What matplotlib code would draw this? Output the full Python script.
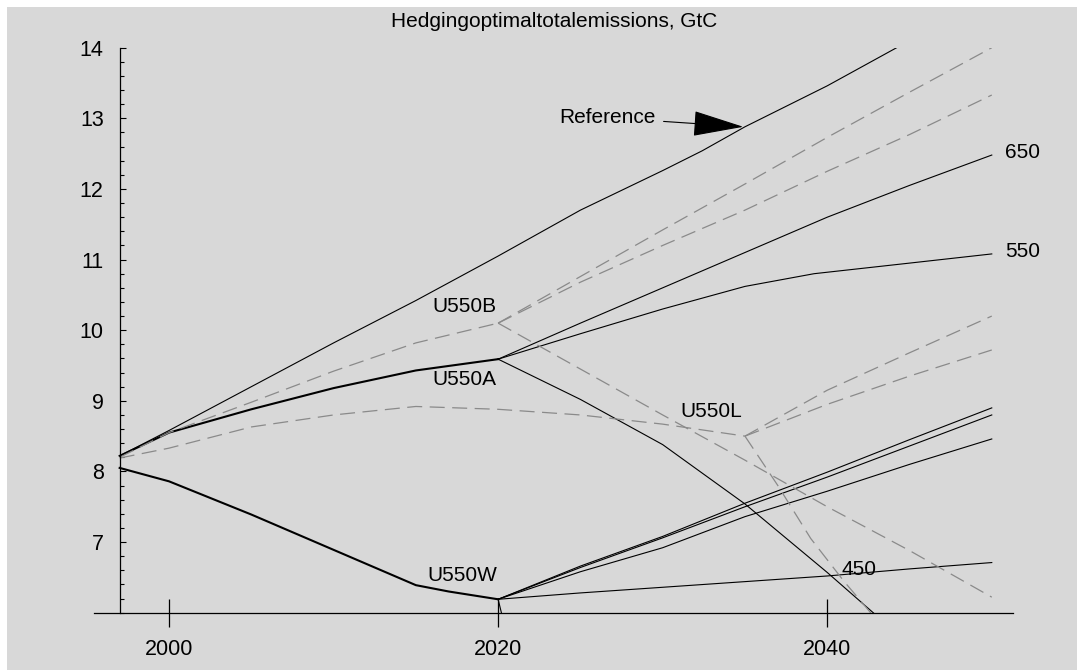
import matplotlib
matplotlib.use("Agg")
import matplotlib.pyplot as plt
from matplotlib.patches import Rectangle
from matplotlib.ticker import MultipleLocator, FixedLocator

plt.rcParams['font.family'] = ['Liberation Sans', 'DejaVu Sans']

# ---------------- data ----------------
title = "Hedgingoptimaltotalemissions, GtC"
x_ticks = [2000, 2020, 2040]
y_ticks = [7, 8, 9, 10, 11, 12, 13, 14]

# Reference (solid)
ref_years = [1997, 2000, 2005, 2010, 2015, 2020, 2025, 2030, 2032.4, 2035, 2040, 2045, 2050]
ref_vals  = [8.22, 8.58, 9.20, 9.82, 10.42, 11.05, 11.70, 12.26, 12.54, 12.88, 13.46, 14.10, 14.70]

# U550A (solid, thick) before learning, then branches
a_years = [1997, 2000, 2005, 2010, 2015, 2020]
a_vals  = [8.22, 8.55, 8.88, 9.18, 9.43, 9.59]
a650_years = [2020, 2025, 2030, 2035, 2040, 2045, 2050]
a650_vals  = [9.59, 10.10, 10.60, 11.10, 11.60, 12.05, 12.48]
a550_years = [2020, 2025, 2030, 2035, 2039.2, 2045, 2050]
a550_vals  = [9.59, 9.95, 10.30, 10.62, 10.80, 10.95, 11.08]
a450_years = [2020, 2025, 2030, 2035, 2040, 2045]
a450_vals  = [9.59, 9.02, 8.38, 7.54, 6.57, 5.55]

# U550W (solid, thick) before learning, then branches
w_years = [1997, 2000, 2005, 2010, 2015, 2017, 2020]
w_vals  = [8.05, 7.86, 7.39, 6.89, 6.39, 6.30, 6.19]
w1_years = [2020, 2025, 2030, 2035, 2040, 2045, 2050]
w1_vals  = [6.19, 6.66, 7.08, 7.55, 7.99, 8.45, 8.90]
w2_vals  = [6.19, 6.64, 7.06, 7.50, 7.92, 8.36, 8.80]
w3_vals  = [6.19, 6.58, 6.92, 7.36, 7.72, 8.10, 8.46]
w4_vals  = [6.19, 6.28, 6.36, 6.44, 6.52, 6.62, 6.71]
wdrop_years = [2020, 2020.25]
wdrop_vals  = [6.19, 5.95]

# U550B (dashed) before learning, then branches
b_years = [1997, 2000, 2005, 2010, 2015, 2020]
b_vals  = [8.20, 8.55, 8.98, 9.42, 9.82, 10.10]
bup_years = [2020, 2025, 2030, 2035, 2040, 2045, 2050]
bup1_vals = [10.10, 10.76, 11.42, 12.07, 12.73, 13.37, 14.00]
bup2_vals = [10.10, 10.68, 11.20, 11.70, 12.25, 12.77, 13.33]
bdn_vals  = [10.10, 9.45, 8.80, 8.16, 7.50, 6.88, 6.22]

# U550L (dashed) before learning, then branches
l_years = [1997, 2000, 2005, 2010, 2015, 2020, 2025, 2030, 2035]
l_vals  = [8.19, 8.33, 8.63, 8.80, 8.92, 8.88, 8.80, 8.67, 8.50]
lup_years = [2035, 2040, 2045, 2050]
lup1_vals = [8.50, 9.15, 9.68, 10.20]
lup2_vals = [8.50, 8.95, 9.35, 9.72]
ldn_years = [2035, 2037, 2039, 2041, 2043]
ldn_vals  = [8.50, 7.80, 7.05, 6.45, 5.90]

# labels: (text, year, value)
labels = [("U550B", 2017.95, 10.33), ("U550A", 2017.95, 9.30),
          ("U550W", 2017.8, 6.53), ("U550L", 2032.95, 8.85),
          ("450", 2041.93, 6.61)]
end_labels = [("650", 2050.8, 12.51), ("550", 2050.8, 11.11)]

# ---------------- figure ----------------
W, H = 1077, 670
fig = plt.figure(figsize=(W / 100, H / 100), dpi=100, facecolor='white')
bg = '#d8d8d8'
fig.patches.append(Rectangle((7 / W, 0), 1 - 7 / W, 1 - 7 / H, transform=fig.transFigure,
                             facecolor=bg, edgecolor='none', zorder=-10))

ax = fig.add_axes([94 / W, 1 - 612.7 / H, 919 / W, 565 / H])
ax.set_facecolor('none')
ax.set_xlim(1995.44, 2051.29)
ax.set_ylim(6, 14)

solid = dict(color='black', lw=0.8, solid_joinstyle='round')
thick = dict(color='black', lw=1.5, solid_joinstyle='round')
dash = dict(color='#8a8a8a', lw=0.9, linestyle=(0, (12, 6)))

ax.plot(ref_years, ref_vals, **solid)
ax.plot(a_years, a_vals, **thick)
ax.plot(a650_years, a650_vals, **solid)
ax.plot(a550_years, a550_vals, **solid)
ax.plot(a450_years, a450_vals, **solid)

ax.plot(w_years, w_vals, **thick)
for v in (w1_vals, w2_vals, w3_vals, w4_vals):
    ax.plot(w1_years, v, **solid)
ax.plot(wdrop_years, wdrop_vals, **solid)

ax.plot(b_years, b_vals, **dash)
ax.plot(bup_years, bup1_vals, **dash)
ax.plot(bup_years, bup2_vals, **dash)
ax.plot(bup_years, bdn_vals, **dash)

ax.plot(l_years, l_vals, **dash)
ax.plot(lup_years, lup1_vals, **dash)
ax.plot(lup_years, lup2_vals, **dash)
ax.plot(ldn_years, ldn_vals, **dash)

fs = 15
for t, xv, yv in labels:
    ax.text(xv, yv, t, ha='center', va='center', fontsize=fs)
for t, xv, yv in end_labels:
    ax.text(xv, yv, t, ha='left', va='center', fontsize=fs)

ax.annotate("Reference", xy=(2034.9, 12.88), xytext=(2029.55, 13.01),
            ha='right', va='center', fontsize=fs,
            arrowprops=dict(arrowstyle='-|>,head_length=2.2,head_width=0.55',
                            mutation_scale=15, color='black', lw=0.8,
                            shrinkA=4, shrinkB=0))

# axes styling
for s in ('top', 'right'):
    ax.spines[s].set_visible(False)
ax.spines['left'].set_position(('data', 1997))
ax.spines['left'].set_linewidth(0.9)
ax.spines['bottom'].set_linewidth(0.9)

ax.xaxis.set_major_locator(FixedLocator(x_ticks))
ax.set_xticklabels([str(v) for v in x_ticks])
ax.yaxis.set_major_locator(FixedLocator(y_ticks))
ax.set_yticklabels([str(v) for v in y_ticks])
ax.yaxis.set_minor_locator(MultipleLocator(0.2))

ax.tick_params(axis='x', which='major', direction='inout', length=20, width=0.9,
               pad=8.6, labelsize=15.5)
ax.tick_params(axis='y', which='major', direction='in', length=4.5, width=0.8,
               pad=11.5, labelsize=15.5)
ax.tick_params(axis='y', which='minor', direction='in', length=3, width=0.8)

fig.text(554.4 / W, 1 - 26.7 / H, title, ha='center', va='baseline', fontsize=15)

fig.savefig('out.png', dpi=100, facecolor=fig.get_facecolor())
